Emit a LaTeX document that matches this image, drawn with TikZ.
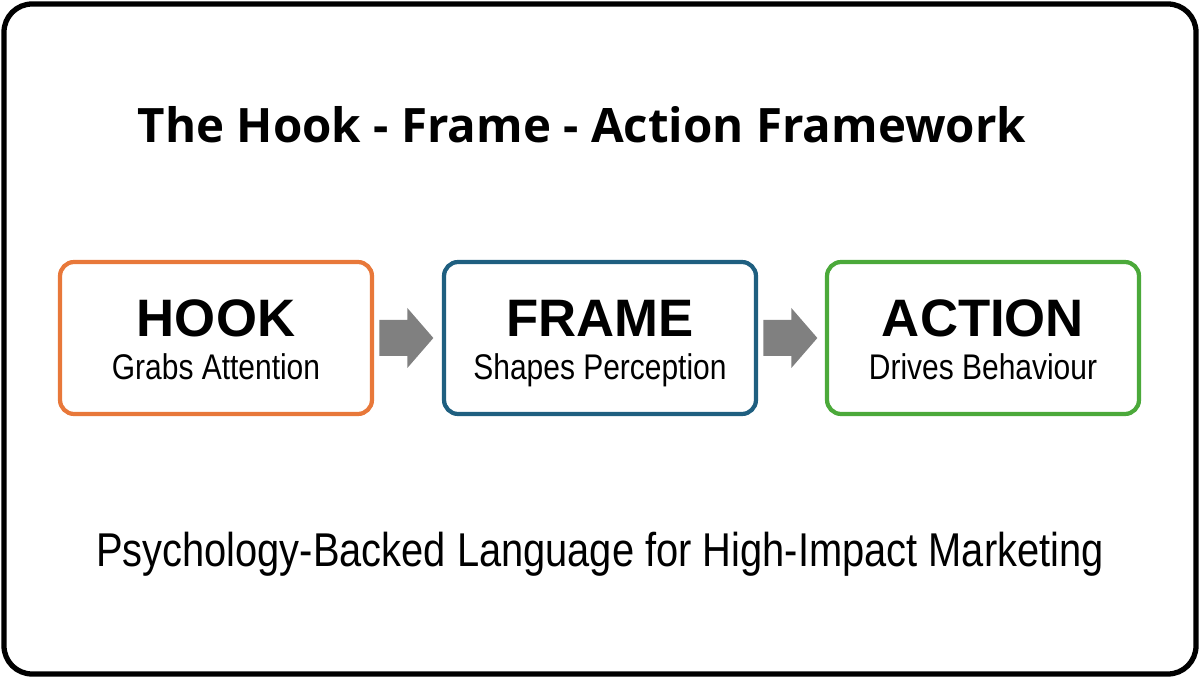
\documentclass[tikz,border=0pt]{standalone}
\usepackage{fontspec}
\setmainfont{Liberation Sans}
\newfontfamily\titlefont{Open Sans}
\newfontfamily\narrowfont[FakeStretch=0.84]{Liberation Sans}
\definecolor{hookc}{HTML}{E8783A}
\definecolor{framec}{HTML}{1F5F80}
\definecolor{actionc}{HTML}{4BA93A}
\definecolor{arrc}{HTML}{808080}
\tikzset{
  px/.style={x=0.02cm,y=-0.02cm},
  stage/.style={draw=#1,line width=2.4pt,rounded corners=8pt,fill=white,minimum width=6.24cm,minimum height=3.04cm},
  heading/.style={font=\bfseries\fontsize{30}{34}\selectfont},
  sub/.style={font=\narrowfont\fontsize{20.3}{24}\selectfont,text height=14pt,text depth=4pt},
  blockarrow/.style={fill=arrc,draw=none}
}
\begin{document}
\begin{tikzpicture}[px]
\useasboundingbox (0,0) rectangle (1200,678);
\draw[line width=3pt,rounded corners=16pt] (4,4) rectangle (1196,674);
\node (title) at (582,125) {\titlefont\bfseries\fontsize{27}{32}\selectfont The Hook - Frame - Action Framework};
\node[stage=hookc] (hook) at (216,338) {};
\node[stage=framec] (frame) at (600,338) {};
\node[stage=actionc] (action) at (983,338) {};
\node[heading] (hookt) at (216,318) {HOOK};
\node[sub] (hooks) at (216,371) {Grabs Attention};
\node[heading] (framet) at (600,318) {FRAME};
\node[sub] (frames) at (600,371) {Shapes Perception};
\node[heading] (actiont) at (983,318) {ACTION};
\node[sub] (actions) at (983,371) {Drives Behaviour};
\fill[blockarrow] ([xshift=3]hook.east) ++(0,-18) -- ++(28,0) -- ++(0,-12) -- ++(26,30) -- ++(-26,30) -- ++(0,-12) -- ++(-28,0) -- cycle;
\fill[blockarrow] ([xshift=3]frame.east) ++(0,-18) -- ++(28,0) -- ++(0,-12) -- ++(26,30) -- ++(-26,30) -- ++(0,-12) -- ++(-28,0) -- cycle;
\node[font=\narrowfont\fontsize{27}{32}\selectfont] (tag) at (600,554) {Psychology-Backed Language for High-Impact Marketing};
\end{tikzpicture}
\end{document}
